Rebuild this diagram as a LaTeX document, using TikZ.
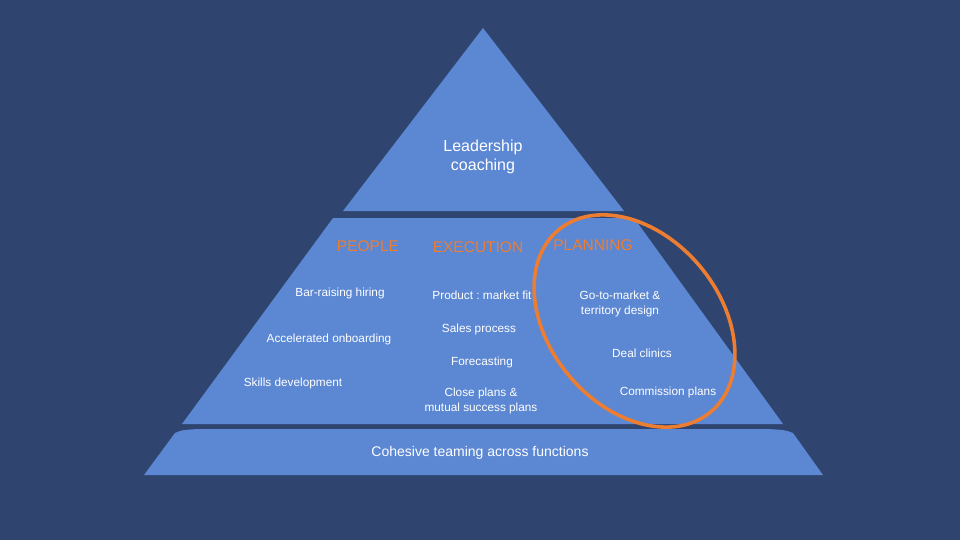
\documentclass[tikz,border=0pt]{standalone}
\usepackage{fontspec}
\setmainfont{Liberation Sans}
\usepackage{tikz}
\frenchspacing

\definecolor{navybg}{HTML}{2F4570}
\definecolor{tierblue}{HTML}{5B87D3}
\definecolor{ringorange}{HTML}{ED7D31}

\begin{document}
\begin{tikzpicture}[x=1pt, y=-1pt,
    every node/.style={text=white, align=center, inner sep=0pt,
      font=\fontsize{11.8}{14.5}\selectfont},
    header/.style={text=ringorange, font=\fontsize{15.5}{18}\selectfont},
    tier/.style={fill=tierblue}]
  % Background and page size
  \fill[navybg] (0,0) rectangle (960,540);
  \useasboundingbox (0,0) rectangle (960,540);

  % Top tier
  \fill[tier] (483,28) -- (624,211) -- (343,211) -- cycle;
  \node[font=\fontsize{16}{19}\selectfont] (lead) at (483,157) {Leadership\\coaching};

  % Middle tier
  \fill[tier] (333,218) -- (634,218) -- (783,424) -- (182,424) -- cycle;
  \node[header] (people) at (368,246) {PEOPLE};
  \node[header] (exec) at (478,247) {EXECUTION};
  \node[header] (plan) at (593,245) {PLANNING};

  % People column
  \node (hiring) at (340,293) {Bar-raising hiring};
  \node (onboard) at (329,339) {Accelerated onboarding};
  \node (skills) at (293,383) {Skills development};

  % Execution column
  \node (fit) at (482,295) {Product : market fit};
  \node (sales) at (479,329) {Sales process};
  \node (forecast) at (482,362) {Forecasting};
  \node[font=\fontsize{11.8}{15}\selectfont] (close) at (481,401) {Close plans \&\\mutual success plans};

  % Planning column
  \node (gtm) at (620,304) {Go-to-market \&\\territory design};
  \node (deal) at (642,353) {Deal clinics};
  \node (commission) at (668,392) {Commission plans};

  % Bottom tier
  \fill[tier] (144,475) -- (175,433) .. controls (182,430) .. (198,429) -- (768,429)
    .. controls (785,430) .. (793,433) -- (823,475) -- cycle;
  \node[font=\fontsize{14}{16}\selectfont] (team) at (480,453) {Cohesive teaming across functions};

  % Highlight ring round the planning column
  \draw[ringorange, line width=3.6pt]
    (634.5,321) ellipse [x radius=118.6pt, y radius=85.3pt, rotate=-50];
\end{tikzpicture}
\end{document}
